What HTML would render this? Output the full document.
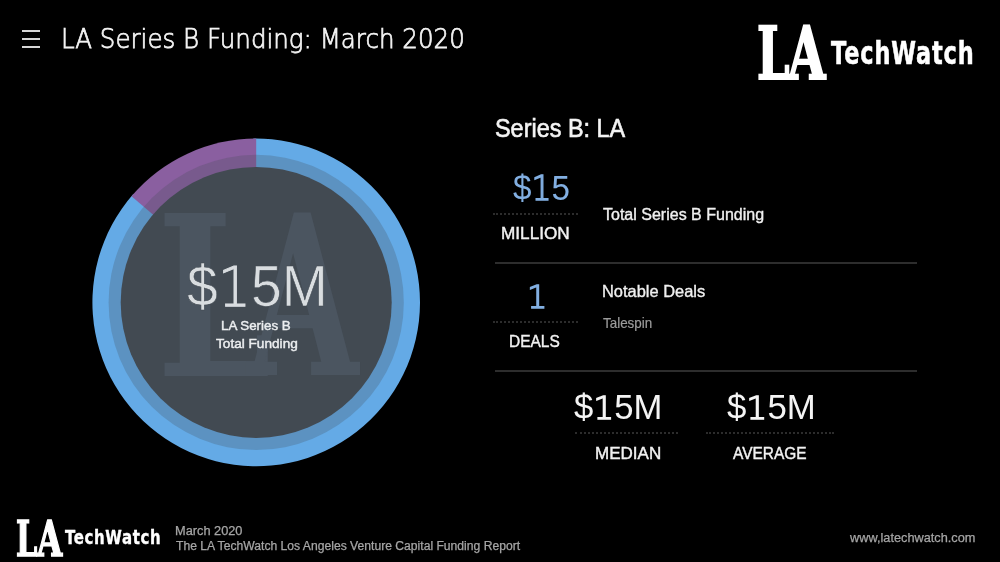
<!DOCTYPE html>
<html><head><meta charset="utf-8">
<style>
*{margin:0;padding:0;box-sizing:border-box}
html,body{width:1000px;height:562px;background:#000;overflow:hidden}
body{position:relative;font-family:"Liberation Sans",sans-serif;color:#fff}
.t{position:absolute;white-space:nowrap;line-height:1;transform-origin:0 0}
.ham{position:absolute;left:22px;width:18px;height:2px;background:#d6d6d6}
.dot{position:absolute;height:2px;border-bottom:2px dotted #2c2c2c}
.hr{position:absolute;left:495px;width:422px;height:2px;background:#2d2d2d}
</style></head><body>
<div class="ham" style="top:30px"></div>
<div class="ham" style="top:38px"></div>
<div class="ham" style="top:46px"></div>
<div class="t" style="left:61.18px;top:24.61px;font-family:'DejaVu Sans', sans-serif;font-weight:200;font-size:27.36px;transform:scaleX(0.8972);color:#f2f2f2;-webkit-text-stroke:0.75px #f4f4f4">LA Series B Funding: March 2020</div>
<div class="t" style="left:756.71px;top:17.91px;font-family:'DejaVu Serif Condensed', 'DejaVu Serif', serif;font-stretch:condensed;font-weight:bold;font-size:72.0px;transform:scaleX(0.7139);color:#fff;-webkit-text-stroke:2px #fff">L</div>
<div class="t" style="left:788.12px;top:18.16px;font-family:'DejaVu Serif Condensed', 'DejaVu Serif', serif;font-stretch:condensed;font-weight:bold;font-size:72.22px;transform:scaleX(0.7419);color:#fff;-webkit-text-stroke:2px #fff">A</div>
<div class="t" style="left:830.75px;top:38.21px;font-family:'DejaVu Sans', sans-serif;font-weight:bold;font-size:31.63px;transform:scaleX(0.7092);letter-spacing:1.2px;color:#fff;-webkit-text-stroke:0.6px #fff">TechWatch</div>
<svg class="t" style="left:0;top:0" width="1000" height="562" viewBox="0 0 1000 562">
<path d="M256.2,302.4 L253.34,138.62 A163.8,163.8 0 1 1 133.33,194.08 Z" fill="#64aae6"/>
<path d="M256.2,302.4 L131.46,196.24 A163.8,163.8 0 0 1 256.2,138.60 Z" fill="#8a5fa0"/>
<circle cx="256.2" cy="302.4" r="147.6" fill="#424a52" fill-opacity="0.25"/>
<circle cx="256.2" cy="302.4" r="135.5" fill="#424a52"/>
</svg>
<div style="position:absolute;left:0;top:0;width:1000px;height:562px;clip-path:circle(135.5px at 256.2px 302.4px)">
<div class="t" style="left:156.68px;top:186.8px;font-family:'DejaVu Serif Condensed', 'DejaVu Serif', serif;font-stretch:condensed;font-weight:bold;font-size:222.8px;transform:scaleX(0.8109);color:#4b5560;">L</div>
<div class="t" style="left:247.0px;top:186.36px;font-family:'DejaVu Serif Condensed', 'DejaVu Serif', serif;font-stretch:condensed;font-weight:bold;font-size:222.36px;transform:scaleX(0.717);color:#4b5560;">A</div>
</div>
<div class="t" style="left:186.91px;top:257.64px;font-family:'Liberation Sans', sans-serif;font-weight:normal;font-size:57.44px;transform:scaleX(0.961);color:#d9dde0;-webkit-text-stroke:0.6px #424a52">$<span style="font-family:'DejaVu Sans',sans-serif;font-weight:200;font-size:0.95em;-webkit-text-stroke:0.9px #d9dde0">1</span>5M</div>
<div class="t" style="left:220.85px;top:319.19px;font-family:'Liberation Sans', sans-serif;font-weight:normal;font-size:13.64px;transform:scaleX(0.9793);color:#eceef0;-webkit-text-stroke:0.45px #eceef0">LA Series B</div>
<div class="t" style="left:216.08px;top:337.39px;font-family:'Liberation Sans', sans-serif;font-weight:normal;font-size:13.54px;transform:scaleX(1.0066);color:#eceef0;-webkit-text-stroke:0.45px #eceef0">Total Funding</div>
<div class="t" style="left:494.96px;top:115.5px;font-family:'Liberation Sans', sans-serif;font-weight:normal;font-size:25.57px;transform:scaleX(0.9161);color:#f4f4f4;-webkit-text-stroke:0.6px #f4f4f4">Series B: LA</div>
<div class="t" style="left:512.54px;top:171.2px;font-family:'Liberation Sans', sans-serif;font-weight:normal;font-size:35.6px;transform:scaleX(0.9323);color:#82afe2;">$<span style="font-family:'DejaVu Sans',sans-serif;font-weight:200;font-size:0.95em;-webkit-text-stroke:1.4px #82afe2">1</span>5</div>
<div class="dot" style="left:492.5px;top:212.8px;width:85px"></div>
<div class="t" style="left:500.52px;top:225.5px;font-family:'Liberation Sans', sans-serif;font-weight:normal;font-size:16.0px;transform:scaleX(1.0735);color:#f2f2f2;-webkit-text-stroke:0.4px #f2f2f2">MILLION</div>
<div class="t" style="left:602.93px;top:207.39px;font-family:'Liberation Sans', sans-serif;font-weight:normal;font-size:15.64px;transform:scaleX(1.0246);color:#f0f0f0;-webkit-text-stroke:0.35px #f0f0f0">Total Series B Funding</div>
<div class="hr" style="top:262px"></div>
<div class="t" style="left:527.45px;top:282.0px;font-family:'DejaVu Sans', sans-serif;font-weight:200;font-size:31.37px;transform:scaleX(1.0243);color:#82afe2;-webkit-text-stroke:1.3px #82afe2">1</div>
<div class="dot" style="left:492.5px;top:321.4px;width:85px"></div>
<div class="t" style="left:509.47px;top:334.1px;font-family:'Liberation Sans', sans-serif;font-weight:normal;font-size:16.0px;transform:scaleX(0.966);color:#f2f2f2;-webkit-text-stroke:0.4px #f2f2f2">DEALS</div>
<div class="t" style="left:602.03px;top:282.89px;font-family:'Liberation Sans', sans-serif;font-weight:normal;font-size:16.48px;transform:scaleX(0.9976);color:#f0f0f0;-webkit-text-stroke:0.35px #f0f0f0">Notable Deals</div>
<div class="t" style="left:602.91px;top:314.6px;font-family:'Liberation Sans', sans-serif;font-weight:normal;font-size:15.18px;transform:scaleX(0.8847);color:#9c9c9c;-webkit-text-stroke:0.2px #9c9c9c">Talespin</div>
<div class="hr" style="top:370px"></div>
<div class="t" style="left:573.91px;top:389.8px;font-family:'Liberation Sans', sans-serif;font-weight:normal;font-size:34.38px;transform:scaleX(1.0088);color:#f4f4f4;">$<span style="font-family:'DejaVu Sans',sans-serif;font-weight:200;font-size:0.95em;-webkit-text-stroke:1.4px #f4f4f4">1</span>5M</div>
<div class="dot" style="left:575px;top:432.4px;width:103px"></div>
<div class="t" style="left:594.82px;top:445.5px;font-family:'Liberation Sans', sans-serif;font-weight:normal;font-size:16.0px;transform:scaleX(1.0638);color:#f2f2f2;-webkit-text-stroke:0.4px #f2f2f2">MEDIAN</div>
<div class="t" style="left:726.7px;top:389.8px;font-family:'Liberation Sans', sans-serif;font-weight:normal;font-size:34.38px;transform:scaleX(1.0129);color:#f4f4f4;">$<span style="font-family:'DejaVu Sans',sans-serif;font-weight:200;font-size:0.95em;-webkit-text-stroke:1.4px #f4f4f4">1</span>5M</div>
<div class="dot" style="left:706px;top:432.4px;width:128px"></div>
<div class="t" style="left:733.38px;top:446.3px;font-family:'Liberation Sans', sans-serif;font-weight:normal;font-size:16.0px;transform:scaleX(0.9655);color:#f2f2f2;-webkit-text-stroke:0.4px #f2f2f2">AVERAGE</div>
<div class="t" style="left:16.23px;top:516.09px;font-family:'DejaVu Serif Condensed', 'DejaVu Serif', serif;font-stretch:condensed;font-weight:bold;font-size:47.8px;transform:scaleX(0.7034);color:#fff;-webkit-text-stroke:1.4px #fff">L</div>
<div class="t" style="left:36.95px;top:516.09px;font-family:'DejaVu Serif Condensed', 'DejaVu Serif', serif;font-stretch:condensed;font-weight:bold;font-size:47.81px;transform:scaleX(0.7548);color:#fff;-webkit-text-stroke:1.4px #fff">A</div>
<div class="t" style="left:65.42px;top:528.41px;font-family:'DejaVu Sans', sans-serif;font-weight:bold;font-size:19.92px;transform:scaleX(0.753);letter-spacing:0.8px;color:#fff;-webkit-text-stroke:0.4px #fff">TechWatch</div>
<div class="t" style="left:175.16px;top:525.43px;font-family:'Liberation Sans', sans-serif;font-weight:normal;font-size:12.0px;transform:scaleX(1.0646);color:#a6a6a6;-webkit-text-stroke:0.25px #a6a6a6">March 2020</div>
<div class="t" style="left:175.8px;top:540.32px;font-family:'Liberation Sans', sans-serif;font-weight:normal;font-size:12.0px;transform:scaleX(1.0115);color:#a6a6a6;-webkit-text-stroke:0.25px #a6a6a6">The LA TechWatch Los Angeles Venture Capital Funding Report</div>
<div class="t" style="left:849.74px;top:530.92px;font-family:'Liberation Sans', sans-serif;font-weight:normal;font-size:13.16px;transform:scaleX(0.969);color:#a6a6a6;-webkit-text-stroke:0.25px #a6a6a6">www,latechwatch.com</div>
</body></html>
